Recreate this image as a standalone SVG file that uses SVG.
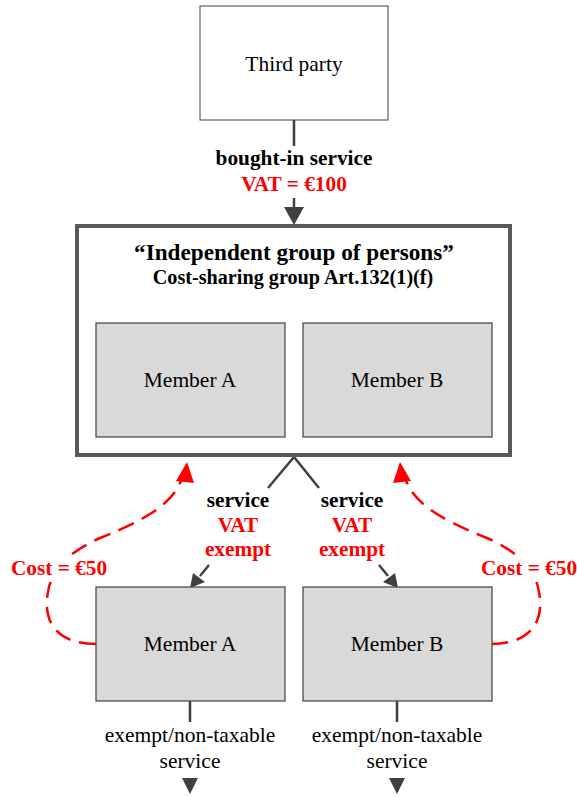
<svg xmlns="http://www.w3.org/2000/svg" width="577" height="797" viewBox="0 0 577 797">
  <style>
    .box { fill: #ffffff; stroke: #404040; stroke-width: 1; }
    .member { fill: #d9d9d9; stroke: #404040; stroke-width: 1.2; }
    .group { fill: #ffffff; stroke: #595959; stroke-width: 4; }
    .t { font-family: "Liberation Serif", "Times New Roman", serif; text-anchor: middle; fill: #000000; }
    .reg { font-size: 21.5px; }
    .lbl { font-size: 21.3px; font-weight: bold; }
    .red { fill: #ff0000; }
    .line { stroke: #404040; stroke-width: 2.5; fill: none; }
    .cost { stroke: #ff0000; stroke-width: 2.5; fill: none; stroke-dasharray: 17 9; }
  </style>

  <!-- connectors -->
  <g id="connectors">
    <line class="line" x1="294" y1="120" x2="294" y2="146"/>
    <line class="line" x1="294" y1="198" x2="294" y2="210"/>
    <path d="M284,207 L304,207 L294,225 z" fill="#404040"/>

    <polyline class="line" points="268,488 294,457 319,488"/>

    <line class="line" x1="209" y1="565" x2="200" y2="576"/>
    <path d="M193,573 L205,582 L190,588 z" fill="#404040"/>
    <line class="line" x1="379" y1="565" x2="388" y2="576"/>
    <path d="M395,573 L383,582 L398,588 z" fill="#404040"/>

    <line class="line" x1="190" y1="701" x2="190" y2="722"/>
    <line class="line" x1="397" y1="701" x2="397" y2="722"/>
    <path d="M182,778 L198,778 L190,794 z" fill="#404040"/>
    <path d="M389,778 L405,778 L397,794 z" fill="#404040"/>

    <!-- cost reimbursement flows -->
    <path class="cost" d="M96,644 C 60,644 42,625 48,592 C 52,566 72,551 100,538 C 150,518 174,502 182,478"/>
    <path d="M176,481 L194,483 L187,462 z" fill="#ff0000"/>
    <path class="cost" d="M491,644 C 527,644 545,625 539,592 C 535,566 515,551 487,538 C 437,518 413,502 405,478"/>
    <path d="M411,481 L393,483 L400,462 z" fill="#ff0000"/>
  </g>

  <!-- third party supplier -->
  <g id="third-party">
    <rect class="box" x="200" y="6" width="188" height="114"/>
    <text class="t reg" x="294" y="71">Third party</text>
  </g>

  <g id="label-bought-in">
    <text class="t lbl" x="294" y="165">bought-in service</text>
    <text class="t lbl red" x="294" y="191">VAT = €100</text>
  </g>

  <!-- cost-sharing group -->
  <g id="group">
    <rect class="group" x="77" y="226" width="433" height="229"/>
    <text class="t" font-weight="bold" font-size="23.2" x="294" y="260">“Independent group of persons”</text>
    <text class="t" font-weight="bold" font-size="20.2" x="293" y="284">Cost-sharing group Art.132(1)(f)</text>
  </g>
  <g id="group-member-a">
    <rect class="member" x="96" y="323" width="189" height="114"/>
    <text class="t reg" x="190" y="387">Member A</text>
  </g>
  <g id="group-member-b">
    <rect class="member" x="303" y="323" width="189" height="114"/>
    <text class="t reg" x="397" y="387">Member B</text>
  </g>

  <g id="label-service-a">
    <text class="t lbl" x="238" y="507">service</text>
    <text class="t lbl red" x="238" y="532">VAT</text>
    <text class="t lbl red" x="238" y="556">exempt</text>
  </g>
  <g id="label-service-b">
    <text class="t lbl" x="352" y="507">service</text>
    <text class="t lbl red" x="352" y="532">VAT</text>
    <text class="t lbl red" x="352" y="556">exempt</text>
  </g>

  <g id="cost-label-a">
    <rect x="8" y="556" width="102" height="26" fill="#ffffff"/>
    <text class="t lbl red" x="59" y="575">Cost = €50</text>
  </g>
  <g id="cost-label-b">
    <rect x="477" y="556" width="100" height="26" fill="#ffffff"/>
    <text class="t lbl red" x="529" y="575">Cost = €50</text>
  </g>

  <!-- members as recipients -->
  <g id="member-a">
    <rect class="member" x="96" y="587" width="189" height="114"/>
    <text class="t reg" x="190" y="651">Member A</text>
  </g>
  <g id="member-b">
    <rect class="member" x="303" y="587" width="189" height="114"/>
    <text class="t reg" x="397" y="651">Member B</text>
  </g>

  <g id="label-out-a">
    <text class="t" font-size="21.5" x="190" y="742">exempt/non-taxable</text>
    <text class="t" font-size="21.5" x="190" y="768">service</text>
  </g>
  <g id="label-out-b">
    <text class="t" font-size="21.5" x="397" y="742">exempt/non-taxable</text>
    <text class="t" font-size="21.5" x="397" y="768">service</text>
  </g>
</svg>
